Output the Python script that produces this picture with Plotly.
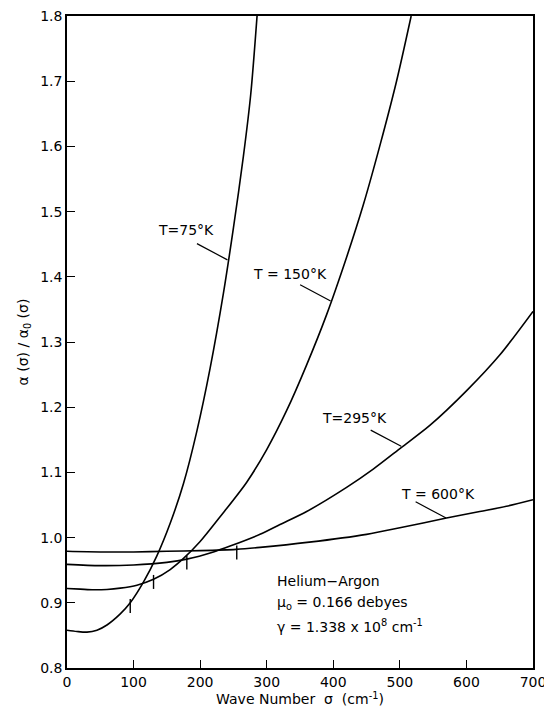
import plotly.graph_objects as go

# --- data ---
sigma_75 = [0, 15, 30, 45, 60, 80, 95, 115, 135, 155, 175, 195, 215, 235, 250, 265, 276, 285.5]
alpha_75 = [0.858, 0.856, 0.855, 0.858, 0.866, 0.883, 0.900, 0.932, 0.972, 1.022, 1.083, 1.163, 1.260, 1.375, 1.475, 1.585, 1.680, 1.800]

sigma_150 = [0, 20, 40, 60, 80, 105, 130, 155, 175, 200, 230, 270, 300, 330, 360, 390, 420, 445, 471, 495, 517]
alpha_150 = [0.922, 0.921, 0.920, 0.9205, 0.9225, 0.927, 0.936, 0.951, 0.968, 0.994, 1.032, 1.085, 1.135, 1.195, 1.265, 1.342, 1.430, 1.510, 1.605, 1.700, 1.800]

sigma_295 = [0, 50, 100, 150, 180, 220, 245, 290, 320, 360, 420, 460, 502, 545, 600, 650, 700]
alpha_295 = [0.959, 0.957, 0.958, 0.962, 0.967, 0.978, 0.987, 1.005, 1.020, 1.040, 1.077, 1.105, 1.138, 1.172, 1.225, 1.280, 1.347]

sigma_600 = [0, 50, 100, 150, 200, 254, 290, 364, 450, 500, 570, 620, 660, 700]
alpha_600 = [0.979, 0.978, 0.978, 0.979, 0.980, 0.982, 0.985, 0.993, 1.005, 1.015, 1.030, 1.040, 1.048, 1.058]

curve_labels = ["T=75°K", "T = 150°K", "T=295°K", "T = 600°K"]
label_sigma = [178.6, 335.4, 432.2, 556.7]
label_alpha = [1.472, 1.404, 1.184, 1.0675]
leader_sigma = [241, 396, 502, 569.5]
leader_alpha = [1.426, 1.363, 1.140, 1.030]

mark_sigma = [95, 130, 180, 255]
mark_alpha = [0.895, 0.932, 0.962, 0.977]

x_ticks = [0, 100, 200, 300, 400, 500, 600, 700]
y_ticks = [0.8, 0.9, 1.0, 1.1, 1.2, 1.3, 1.4, 1.5, 1.6, 1.7, 1.8]
y_tick_text = ["0.8", "0.9", "1.0", "1.1", "1.2", "1.3", "1.4", "1.5", "1.6", "1.7", "1.8"]

info_lines = ["Helium\u2212Argon", "\u03bc<sub>o</sub> = 0.166 debyes",
              "\u03b3 = 1.338 x 10<sup>8</sup> cm<sup>-1</sup>"]
info_alpha = [0.934, 0.899, 0.865]
info_sigma = 312

FONT = "DejaVu Sans, sans-serif"

fig = go.Figure()
for xs, ys in [(sigma_75, alpha_75), (sigma_150, alpha_150),
               (sigma_295, alpha_295), (sigma_600, alpha_600)]:
    fig.add_trace(go.Scatter(x=xs, y=ys, mode="lines",
                             line=dict(color="black", width=1.6, shape="spline", smoothing=0.8),
                             showlegend=False, hoverinfo="skip"))

fig.add_trace(go.Scatter(x=mark_sigma, y=mark_alpha, mode="markers",
                         marker=dict(symbol="line-ns", size=10, line=dict(color="black", width=1.4)),
                         showlegend=False, hoverinfo="skip"))

annotations = []
for t, xs, ys, lx, ly in zip(curve_labels, label_sigma, label_alpha, leader_sigma, leader_alpha):
    annotations.append(dict(x=xs, y=ys, text=t, showarrow=False,
                            font=dict(family=FONT, size=14, color="black")))
    annotations.append(dict(x=lx, y=ly, text="", showarrow=True, arrowhead=0,
                            arrowwidth=1.2, arrowcolor="black", ax=-32, ay=-17))
for t, ys in zip(info_lines, info_alpha):
    annotations.append(dict(x=info_sigma, y=ys, text=t, showarrow=False, xanchor="left",
                            font=dict(family=FONT, size=14, color="black")))

# page body has an 8px margin, so the figure is sized/offset to land the plot box where the reference has it
fig.update_layout(
    width=544, height=703,
    margin=dict(l=59, r=19, t=8, b=43, autoexpand=False),
    paper_bgcolor="white", plot_bgcolor="white",
    font=dict(family=FONT, size=14, color="black"),
    annotations=annotations,
    xaxis=dict(range=[0, 700], tickvals=x_ticks, ticks="inside", ticklen=8, tickwidth=1.4,
               tickcolor="black", showline=True, linecolor="black", linewidth=1.6, mirror=True,
               showgrid=False, zeroline=False, ticklabeloverflow="allow", automargin=False,
               title=dict(text="Wave Number  \u03c3  (cm<sup>-1</sup>)", standoff=2,
                          font=dict(family=FONT, size=14))),
    yaxis=dict(range=[0.8, 1.8], tickvals=y_ticks, ticktext=y_tick_text, ticks="inside",
               ticklen=8, tickwidth=1.4, tickcolor="black", showline=True, linecolor="black",
               linewidth=1.6, mirror=True, showgrid=False, zeroline=False, ticklabeloverflow="allow",
               automargin=False,
               title=dict(text="\u03b1 (\u03c3) / \u03b1<sub>0</sub> (\u03c3)", standoff=8,
                          font=dict(family=FONT, size=14))),
)

fig.write_html("out.html")
